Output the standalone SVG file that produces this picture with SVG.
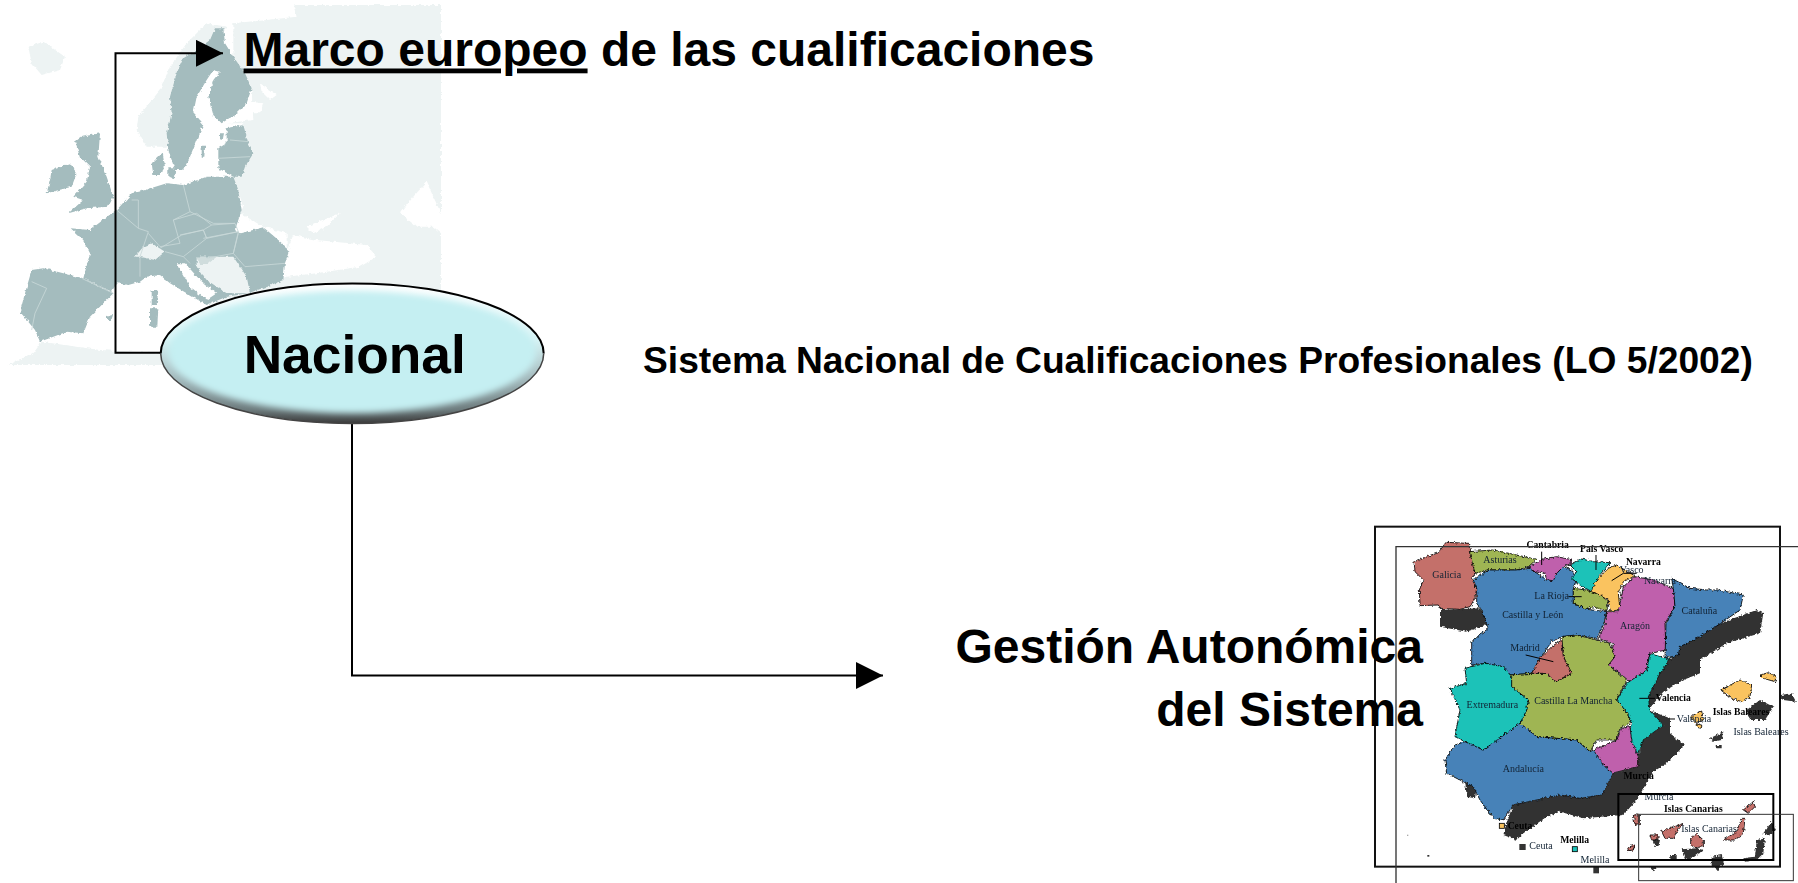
<svg xmlns="http://www.w3.org/2000/svg" width="1798" height="883" viewBox="0 0 1798 883">
<style>
.t{font-family:"Liberation Sans",Arial,sans-serif;font-weight:700;fill:#000}
.d{fill:#a4bcbe}.p{fill:#edf3f3}.w{fill:#fff}.b{fill:none;stroke:#c9d8d8;stroke-width:2.500}
.sh{fill:#333}.r{stroke:#000;stroke-width:2.500}
.red{fill:#c46f6a}.grn{fill:#9fb552}.pur{fill:#bf60ac}.tea{fill:#1bc2b8}.blu{fill:#4682b8}.ora{fill:#fac35f}
.l{font-family:"Liberation Serif",serif;font-size:30px;fill:#123;text-anchor:middle;filter:url(#soft)}
.lb{font-family:"Liberation Serif",serif;font-size:29px;font-weight:700;fill:#000;text-anchor:middle;filter:url(#soft)}
.ld{stroke:#000;stroke-width:3;fill:none}
.con{fill:none;stroke:#000;stroke-width:2}
</style>
<defs>
<marker id="ah" markerUnits="userSpaceOnUse" markerWidth="28" markerHeight="28" refX="27" refY="13.500" orient="auto"><path d="M0 0L27 13.500L0 27Z" fill="#000"/></marker>
<filter id="rough" x="-5%" y="-5%" width="110%" height="110%"><feTurbulence type="fractalNoise" baseFrequency="0.13" numOctaves="2" seed="4"/><feDisplacementMap in="SourceGraphic" scale="12" xChannelSelector="R" yChannelSelector="G"/></filter>
<filter id="rough2" x="-5%" y="-5%" width="110%" height="110%"><feTurbulence type="fractalNoise" baseFrequency="0.09" numOctaves="2" seed="7"/><feDisplacementMap in="SourceGraphic" scale="12" xChannelSelector="R" yChannelSelector="G"/></filter>
<filter id="soft"><feGaussianBlur stdDeviation="0.700"/></filter>
<filter id="b4" x="-10%" y="-20%" width="120%" height="140%"><feGaussianBlur stdDeviation="3"/></filter>
<linearGradient id="rim" x1="0" y1="0" x2="0" y2="1"><stop offset="0" stop-color="#ffffff"/><stop offset=".4" stop-color="#d8f4f6"/><stop offset=".7" stop-color="#9fb5b8"/><stop offset=".9" stop-color="#6d7b7d"/><stop offset="1" stop-color="#3a3a3a"/></linearGradient>
<clipPath id="ec"><ellipse cx="352.200" cy="353.500" rx="191.500" ry="70"/></clipPath>
</defs>

<g id="europe-map" transform="scale(.33333)">
<g filter="url(#rough2)">
<polygon class="p" points="700,70 800,60 890,50 880,15 1323,15 1323,1095 25,1095 100,1060 125,1025 300,1050 480,1060 620,920 745,860 860,830 860,700 790,680 720,640 730,620 700,530 730,370 680,370 760,360 755,270 700,180"/>
<polygon class="p" points="415,350 480,270 510,200 560,130 620,70 680,80 520,300 500,440 440,440 410,390"/>
<polygon class="p" points="85,140 130,125 195,170 180,210 125,225 95,190"/>
<polygon class="w" points="865,740 880,705 950,720 1100,735 1130,770 1080,800 950,820 860,830 855,790"/>
<polygon class="w" points="920,680 1020,640 980,680 940,700"/>
<polygon class="w" points="1200,640 1240,590 1280,545 1300,590 1323,640 1323,700 1300,680 1250,680"/>
<polygon class="w" points="780,250 830,285 810,300 785,275"/>
<polygon class="w" points="745,305 790,310 780,340 750,340"/>
<polygon class="d" points="510,290 530,220 550,175 590,150 630,120 645,85 670,85 675,130 700,170 735,220 755,265 740,310 710,340 665,370 640,345 625,290 640,240 660,215 640,210 620,240 590,290 580,340 610,375 590,420 570,470 550,510 525,510 505,450 500,400 515,340"/>
<polygon class="d" points="680,385 730,375 745,430 760,460 735,500 725,530 700,530 655,505 655,445 680,430"/>
<polygon class="d" points="660,400 672,400 668,420 660,418"/>
<polygon class="d" points="605,440 615,440 613,470 605,470"/>
<polygon class="d" points="225,425 245,410 300,400 295,470 320,530 340,590 325,620 260,625 205,640 250,600 220,590 260,545 270,500 240,470"/>
<polygon class="d" points="155,510 210,490 230,520 215,560 140,580 150,540"/>
<polygon class="d" points="455,490 488,458 495,500 480,525 460,525"/>
<polygon class="d" points="505,505 530,505 525,535 505,530"/>
<polygon class="d" points="212,685 270,690 335,640 355,625 395,580 435,570 500,550 550,555 620,530 700,530 715,570 725,630 705,690 720,700 790,682 835,720 868,750 855,790 850,840 800,860 745,880 680,890 620,915 560,880 510,850 480,825 440,830 420,845 385,855 350,850 335,875 250,835 270,760 250,720"/>
<polygon class="d" points="95,810 130,805 250,835 340,880 270,950 250,1000 200,995 120,1025 105,990 60,935 75,880"/>
<polygon class="d" points="455,870 475,870 470,915 455,915"/>
<polygon class="d" points="450,925 475,925 472,980 450,980"/>
<polygon class="d" points="320,950 340,945 335,960 322,960"/>
<polygon class="w" points="530,790 555,790 600,840 650,880 620,900 570,860"/>
<polygon class="p" points="590,770 650,770 700,770 740,830 750,880 680,880 620,840 590,800"/>
<polygon points="590,770 650,770 620,795 600,795" fill="#d0dddd"/>
<polygon class="p" points="405,770 430,740 455,730 495,755 465,780 420,770"/>
</g>
<path class="b" d="M95 845L140 865L105 940L95 990M245 835L340 880M350 630L415 685L445 695L420 770L420 830M395 600L415 600L415 685M445 700L480 740L540 730L520 660M550 555L570 635L520 660M520 660L590 640L635 675L610 690L540 705M570 635L640 670L705 670M635 675L705 670L715 695L620 715L610 690M480 745L545 705L610 690L620 715L550 770M610 715L715 695L700 760L620 775M715 700L700 760L735 800M735 800L855 790M495 755L550 770L570 790M690 420L745 425M655 475L750 470"/>
</g>

<g id="spain-map" transform="translate(1360,510) scale(.33333)">
<g filter="url(#rough)">
<polygon class="sh" points="240,300 360,295 390,340 320,365 240,350"/>
<polygon class="sh" points="950,410 1080,340 1190,300 1210,310 1200,370 1100,400 1020,450 1020,490 970,510 910,545 865,600 930,625 930,670 975,705 920,760 880,785 830,870 790,915 670,925 600,905 560,920 490,970 470,990 430,975 440,935 460,885 600,855 660,865 725,855 760,790 835,770 835,740 850,690 910,645 870,600 865,560 900,490 930,448"/>
<polygon class="sh" points="315,810 350,835 345,865 320,860"/>
<polygon class="sh" points="1160,600 1200,570 1240,590 1215,630 1170,630"/>
<polygon class="sh" points="1262,555 1295,550 1308,575 1270,570"/>
<polygon class="sh" points="1050,685 1090,665 1085,690 1060,695"/>
<polygon class="sh" points="1065,705 1085,705 1085,715 1070,715"/>
<polygon class="sh" points="880,985 900,990 895,1010 885,1010"/>
<polygon class="sh" points="965,1018 1010,1015 1030,1020 990,1050 975,1048"/>
<polygon class="sh" points="930,1035 950,1035 950,1050 932,1050"/>
<polygon class="sh" points="1055,1040 1085,1035 1092,1060 1075,1080 1055,1070"/>
<polygon class="sh" points="1150,1045 1185,1040 1190,990 1215,985 1210,1030 1190,1050 1155,1055"/>
<polygon class="sh" points="1210,970 1235,935 1248,960 1225,975"/>
<polygon class="sh" points="868,1070 890,1068 880,1085"/>
<polygon class="red r" points="162,155 235,128 258,97 325,100 335,130 345,188 335,205 350,235 345,265 330,290 300,298 240,295 235,285 180,287 178,240 190,210 165,185"/>
<polygon class="grn r" points="328,125 400,120 530,148 505,170 470,180 385,180 345,190"/>
<polygon class="blu r" points="340,210 385,180 470,180 510,175 560,210 590,190 610,170 635,180 650,210 640,235 640,280 680,298 740,305 730,345 710,385 650,375 605,380 575,395 540,445 515,490 450,495 430,470 375,460 335,465 335,395 385,355 365,300 350,280 350,235"/>
<polygon class="pur r" points="505,172 545,148 590,140 630,148 635,160 610,170 590,190 580,212 560,210 555,190 525,185"/>
<polygon class="tea r" points="630,165 665,147 700,155 750,158 720,195 695,245 660,225 635,205 650,185"/>
<polygon class="ora r" points="745,175 770,165 825,198 790,215 775,250 780,300 750,303 745,270 715,255 690,245 715,205"/>
<polygon class="grn r" points="640,235 680,240 720,255 745,275 740,303 700,290 680,298 640,280"/>
<polygon class="pur r" points="740,305 775,305 790,230 825,200 880,210 940,235 945,290 915,340 918,420 870,430 860,480 815,520 780,490 745,465 755,440 760,400 715,385 735,345"/>
<polygon class="blu r" points="935,205 990,235 1040,240 1075,240 1150,255 1140,300 1075,345 1010,385 960,410 955,435 915,445 918,340 945,290 940,235"/>
<polygon class="grn r" points="605,380 650,375 710,390 750,400 765,440 745,465 800,510 770,570 795,600 815,635 780,655 770,690 710,690 690,725 650,690 530,680 480,640 500,600 505,570 455,530 450,495 515,490 560,490 585,515 635,490 610,440"/>
<polygon class="red r" points="605,390 610,440 635,490 600,510 585,515 560,490 515,490 540,445 575,410"/>
<polygon class="tea r" points="315,475 375,460 430,470 455,500 455,530 505,570 500,600 480,640 425,680 400,700 370,720 340,710 315,695 285,680 300,600 270,535 320,520"/>
<polygon class="tea r" points="870,430 930,448 900,490 865,560 870,600 910,645 850,690 835,735 815,735 805,680 815,635 795,600 770,570 800,520 860,480"/>
<polygon class="pur r" points="785,655 810,650 815,690 835,740 835,770 755,790 735,770 700,720 770,690"/>
<polygon class="blu r" points="480,640 530,680 650,690 690,725 700,720 735,770 760,790 725,855 660,865 600,855 460,885 430,930 400,925 360,870 340,830 260,790 255,750 285,705 315,695 370,720 425,680"/>
<polygon class="ora r" points="1082,540 1140,510 1175,525 1170,560 1145,575 1115,565"/>
<polygon class="ora r" points="1200,495 1225,488 1248,498 1245,515 1210,505"/>
<polygon class="ora r" points="990,620 1025,603 1030,630 1010,640"/>
<polygon class="ora r" points="1008,642 1025,645 1025,655 1010,652"/>
<polygon class="red r" points="820,915 838,915 838,945 825,945"/>
<polygon class="red r" points="870,975 895,975 893,990 875,990"/>
<polygon class="red r" points="905,965 970,940 950,965 940,985 915,985"/>
<polygon class="red r" points="992,985 1010,972 1030,990 1030,1010 1005,1013 992,1005"/>
<polygon class="red r" points="1090,990 1130,965 1145,925 1155,925 1150,970 1125,990"/>
<polygon class="red r" points="1150,900 1180,875 1185,890 1165,910"/>
<polygon class="red r" points="803,1012 825,1005 820,1020 805,1022"/>
</g>
<rect x="418" y="940" width="15" height="15" class="ora r"/>
<rect x="637" y="1010" width="15" height="15" class="tea r"/>
<rect x="478" y="1002" width="19" height="18" class="sh"/>
<rect x="700" y="1070" width="17" height="20" class="sh"/>
<rect x="202" y="1035" width="6" height="5" class="sh"/>
<rect x="141" y="974" width="4" height="4" fill="#aaa"/>
<path class="ld" d="M545 125V165M708 135V180M755 212L790 190H830M625 260H665M838 565H885M930 627H945M497 435L580 455"/>
<text class="l" x="260" y="205">Galicia</text>
<text class="l" x="420" y="158">Asturias</text>
<text class="lb" x="563" y="115">Cantabria</text>
<text class="lb" x="725" y="126">País Vasco</text>
<text class="lb" x="850" y="165">Navarra</text>
<text class="l" x="815" y="188">Vasco</text>
<text class="l" x="900" y="223">Navarra</text>
<text class="l" x="575" y="266">La Rioja</text>
<text class="l" x="518" y="325">Castilla y León</text>
<text class="l" x="825" y="358">Aragón</text>
<text class="l" x="1018" y="313">Cataluña</text>
<text class="l" x="495" y="422">Madrid</text>
<text class="l" x="640" y="583">Castilla La Mancha</text>
<text class="l" x="397" y="595">Extremadura</text>
<text class="l" x="490" y="787">Andalucía</text>
<text class="lb" x="940" y="573">Valencia</text>
<text class="l" x="1002" y="635">Valencia</text>
<text class="lb" x="1143" y="615">Islas Baleares</text>
<text class="l" x="1203" y="676">Islas Baleares</text>
<text class="lb" x="836" y="808">Murcia</text>
<text class="l" x="897" y="870">Murcia</text>
<text class="lb" x="1000" y="905">Islas Canarias</text>
<text class="l" x="1047" y="966">Islas Canarias</text>
<text class="lb" x="480" y="956">Ceuta</text>
<text class="l" x="543" y="1018">Ceuta</text>
<text class="lb" x="644" y="998">Melilla</text>
<text class="l" x="705" y="1058">Melilla</text>
<rect x="45" y="50" width="1215" height="1020" fill="none" stroke="#111" stroke-width="6"/>
<path d="M1315 110H108V1119" fill="none" stroke="#333" stroke-width="4"/>
<rect x="775" y="852" width="465" height="198" fill="none" stroke="#000" stroke-width="6"/>
<rect x="836" y="913" width="464" height="199" fill="none" stroke="#333" stroke-width="3"/>
</g>

<g id="connectors">
<path class="con" marker-end="url(#ah)" d="M162 352.700H115.500V53.300H223"/>
<path class="con" marker-end="url(#ah)" d="M352 420V675.500H883"/>
</g>

<g id="node-nacional">
<ellipse cx="352.200" cy="353.500" rx="191.500" ry="70" fill="url(#rim)"/>
<g clip-path="url(#ec)"><ellipse cx="352.200" cy="352" rx="184" ry="61" fill="#c5eff2" filter="url(#b4)"/></g>
<path d="M160.700 353.500A191.500 70 0 0 1 543.700 353.500" fill="none" stroke="#000" stroke-width="2"/>
<path d="M160.700 353.500A191.500 70 0 0 0 543.700 353.500" fill="none" stroke="#444" stroke-width="1.500"/>
<text class="t" x="354.700" y="373" font-size="53.300" text-anchor="middle">Nacional</text>
</g>

<g id="node-marco">
<text class="t" x="243.500" y="65.500" font-size="48"><tspan text-decoration="underline">Marco europeo</tspan> de las cualificaciones</text>
</g>
<g id="node-sistema">
<text class="t" x="643" y="373" font-size="37.200">Sistema Nacional de Cualificaciones Profesionales (LO 5/2002)</text>
</g>
<g id="node-gestion">
<text class="t" x="1423" y="662.500" font-size="48" text-anchor="end">Gestión Autonómica</text>
<text class="t" x="1423" y="725.500" font-size="48" text-anchor="end">del Sistema</text>
</g>
</svg>
